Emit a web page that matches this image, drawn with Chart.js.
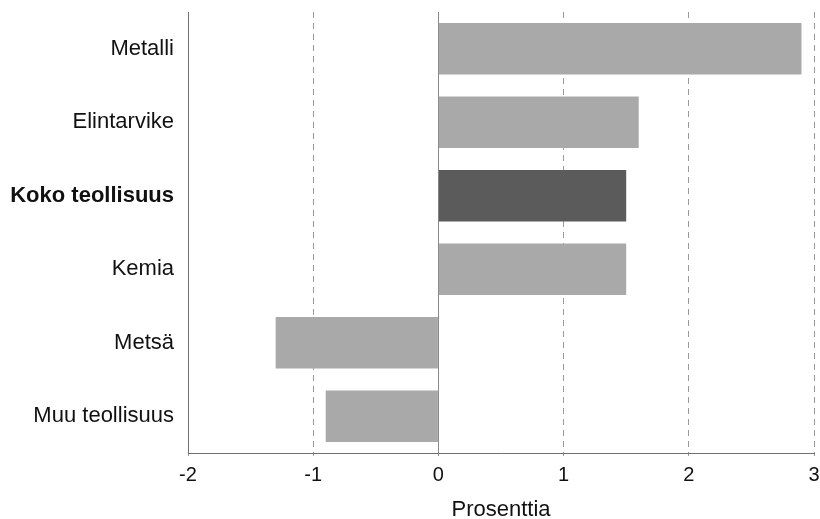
<!DOCTYPE html>
<html>
<head>
<meta charset="utf-8">
<script src="https://cdn.jsdelivr.net/npm/chart.js@4.4.1/dist/chart.umd.min.js"></script>
<style>
  html, body { margin: 0; padding: 0; background: #fff; }
  #wrap { width: 820px; height: 519px; }
</style>
</head>
<body>
<div id="wrap"><canvas id="barChart"></canvas></div>
<script>
const categories = ['Metalli', 'Elintarvike', 'Koko teollisuus', 'Kemia', 'Metsä', 'Muu teollisuus'];
const values = [2.9, 1.6, 1.5, 1.5, -1.3, -0.9];
const xTicks = [-2, -1, 0, 1, 2, 3];
const axisTitle = 'Prosenttia';
const highlight = 'Koko teollisuus';

const barChart = document.getElementById('barChart');

new Chart(barChart, {
  type: 'bar',
  data: {
    labels: categories,
    datasets: [{
      data: values,
      backgroundColor: categories.map(c => c === highlight ? '#5b5b5b' : '#a9a9a9'),
      borderWidth: 0,
      categoryPercentage: 0.7,
      barPercentage: 1,
    }]
  },
  options: {
    indexAxis: 'y',
    responsive: true,
    maintainAspectRatio: false,
    animation: false,
    layout: {
      padding: { left: 0, right: 6, top: 12, bottom: 0 }
    },
    scales: {
      x: {
        min: -2,
        max: 3,
        afterBuildTicks: function (scale) {
          scale.ticks = xTicks.map(v => ({ value: v }));
        },
        afterFit: function (scale) {
          scale.height = 66;
          scale.paddingLeft = 0;
          scale.paddingRight = 0;
        },
        grid: {
          drawTicks: true,
          tickLength: 3,
          color: function (ctx) {
            if (ctx.tick && ctx.tick.value === 0) return '#8a8a8a';
            return '#9a9a9a';
          },
          lineWidth: 1,
        },
        border: {
          display: true,
          color: '#6f6f6f',
          width: 1,
          dash: function (ctx) {
            if (ctx.tick && (ctx.tick.value === 0 || ctx.tick.value === -2)) return [];
            return [6, 5];
          }
        },
        ticks: {
          color: '#111',
          padding: 7,
          maxRotation: 0,
          font: { family: 'Liberation Sans', size: 20 }
        },
        title: {
          display: true,
          text: axisTitle,
          color: '#111',
          padding: { top: 7, bottom: -4 },
          font: { family: 'Liberation Sans', size: 22 }
        }
      },
      y: {
        afterFit: function (scale) {
          scale.width = 188;
          scale.paddingTop = 0;
          scale.paddingBottom = 0;
        },
        grid: {
          display: false,
        },
        border: {
          display: true,
          color: '#6f6f6f',
          width: 1,
        },
        ticks: {
          color: '#111',
          padding: 6,
          font: function (ctx) {
            const bold = categories[ctx.index] === highlight;
            return { family: 'Liberation Sans', size: 22, weight: bold ? 'bold' : 'normal' };
          }
        }
      }
    },
    plugins: {
      legend: { display: false },
      tooltip: { enabled: false }
    }
  }
});
</script>
</body>
</html>
